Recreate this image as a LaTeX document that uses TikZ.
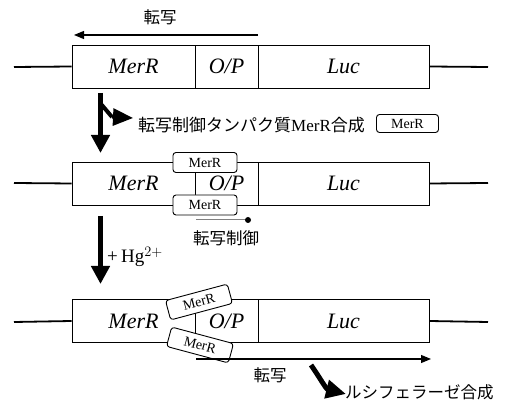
\documentclass[tikz,border=0pt]{standalone}
\usepackage{fontspec}
\setmainfont{Liberation Serif}
\newfontfamily\jp{Noto Sans CJK JP}
\usetikzlibrary{arrows.meta}
\begin{document}
\begin{tikzpicture}[x=1pt,y=-1pt,
  gene/.style={draw,line width=0.9pt,fill=white,minimum height=43pt,inner sep=0pt,font=\fontsize{22}{26}\selectfont\itshape},
  dna/.style={line width=1.8pt},
  prot/.style={draw,line width=0.9pt,fill=white,rounded corners=3pt,minimum width=64pt,minimum height=20pt,inner sep=0pt,font=\fontsize{14}{16}\selectfont},
  thinarrow/.style={line width=1.1pt,-{Triangle[width=8pt,length=10pt]}},
  bigarrow/.style={line width=5pt,-{Triangle[width=18pt,length=18pt]}},
  jptext/.style={font=\jp\fontsize{16.5}{18}\selectfont,inner sep=0pt}
]
\useasboundingbox (0,0) rectangle (512,403);
% ---------- row 1 ----------
\node[gene,minimum width=123pt] (m1) at (133.5,66.5) {MerR};
\node[gene,minimum width=63pt] (o1) at (226.5,66.5) {O/P};
\node[gene,minimum width=171pt] (l1) at (343.5,66.5) {Luc};
\coordinate (a1) at (14,67);
\coordinate (b1) at (488,67);
\draw[dna] (a1) -- (m1.west);
\draw[dna] (l1.east) -- (b1);
\coordinate (t1s) at (258,35);
\coordinate (t1e) at (74,35);
\draw[thinarrow] (t1s) -- (t1e);
\node[jptext] (tx1) at (160,17) {転写};
% big arrow 1
\coordinate (d1s) at (100.5,93);
\coordinate (d1e) at (100.5,153);
\coordinate (br1) at (101,104);
\coordinate (br2) at (112,117);
\coordinate (br3) at (133,118);
\draw[bigarrow] (d1s) -- (d1e);
\draw[line width=4pt] (br1) -- (br2);
\draw[line width=3pt,-{Triangle[width=17pt,length=20pt]}] (br2) -- (br3);
\node[anchor=west,inner sep=0pt,font=\fontsize{17}{18}\selectfont] (syn) at (138,125) {{\jp 転写制御タンパク質}MerR{\jp 合成}};
\node[prot,minimum height=18pt,minimum width=62pt] (p0) at (407.5,123.5) {MerR};
% ---------- row 2 ----------
\node[gene,minimum width=123pt] (m2) at (133.5,183.5) {MerR};
\node[gene,minimum width=63pt] (o2) at (226.5,183.5) {O/P};
\node[gene,minimum width=171pt] (l2) at (343.5,183.5) {Luc};
\coordinate (a2) at (14,183);
\coordinate (b2) at (488,183);
\draw[dna] (a2) -- (m2.west);
\draw[dna] (l2.east) -- (b2);
\node[prot] (p1) at (205,162.5) {MerR};
\node[prot] (p2) at (205,205) {MerR};
\coordinate (rs) at (196,220);
\coordinate (re) at (248,220);
\draw[gray,line width=1pt] (rs) -- (re);
\fill (re) circle (3pt);
\node[jptext] (tx2) at (226,238) {転写制御};
% big arrow 2
\coordinate (d2s) at (100.5,216);
\coordinate (d2e) at (100.5,284);
\draw[bigarrow] (d2s) -- (d2e);
\node[anchor=west,inner sep=0pt,font=\fontsize{19}{22}\selectfont] (hg) at (107,257) {+\,Hg$^{2+}$};
% ---------- row 3 ----------
\node[gene,minimum width=123pt] (m3) at (133.5,321) {MerR};
\node[gene,minimum width=63pt] (o3) at (226.5,321) {O/P};
\node[gene,minimum width=171pt] (l3) at (343.5,321) {Luc};
\coordinate (a3) at (14,322);
\coordinate (b3) at (488,322);
\draw[dna] (a3) -- (m3.west);
\draw[dna] (l3.east) -- (b3);
\node[prot,rotate=15] (p3) at (199,302) {MerR};
\node[prot,rotate=-15] (p4) at (200,345) {MerR};
\coordinate (t3s) at (196,359);
\coordinate (t3e) at (431,359);
\draw[thinarrow] (t3s) -- (t3e);
\node[jptext] (tx3) at (270,375) {転写};
\coordinate (c1) at (311,365);
\coordinate (c2) at (346,394);
\draw[line width=5pt,-{Triangle[width=18pt,length=20pt]}] (c1) .. controls (320,378) and (326,389) .. (c2);
\node[jptext,anchor=west] (luc) at (345,392) {ルシフェラーゼ合成};
\end{tikzpicture}
\end{document}
